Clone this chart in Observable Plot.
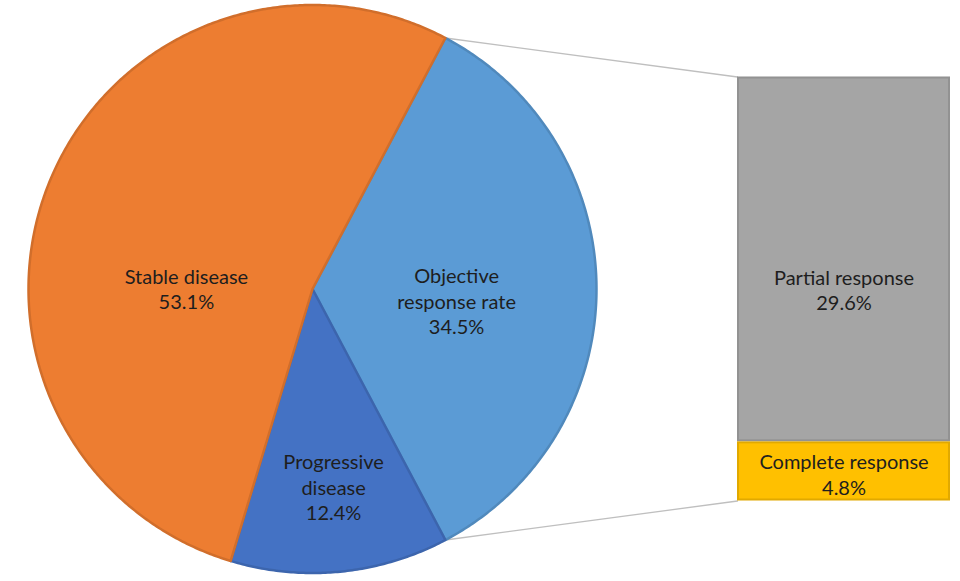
<!DOCTYPE html>
<html><head><meta charset="utf-8">
<script src="https://cdn.jsdelivr.net/npm/d3@7"></script>
<script src="https://cdn.jsdelivr.net/npm/@observablehq/plot@0.6"></script>
<style>body{margin:0;background:#fff;} #chart svg{display:block;}</style>
</head><body><div id="chart"></div>
<script>
// ---- data ----
const pieLabels = ["Objective\nresponse rate", "Progressive\ndisease", "Stable disease"];
const pieValues = [34.5, 12.4, 53.1];
const barLabels = ["Partial response", "Complete response"];
const barValues = [29.6, 4.8];

// ---- styles / layout ----
const pieColors = ["#5B9BD5", "#4472C4", "#ED7D31"];
const barColors = ["#A5A5A5", "#FFC000"];
const W = 960, H = 581, cx = 312, cy = 288.5, R = 284;
const labelPolar = [[94.6, 0.509], [173.9, 0.699], [270.3, 0.444]]; // [angle deg, radius fraction]
const barX1 = 1.4965, barW = 0.75, barH = 1.493;
const barLabelFrac = [0.582, 0.54];

const rad = d => d * Math.PI / 180;
const pt = (deg, r) => ({x: r * Math.sin(rad(deg)), y: -r * Math.cos(rad(deg))});

// slice angles: the split slice (index 0) is centred at 90°
const total = d3.sum(pieValues);
let a = 90 - pieValues[0] / total * 360 / 2;
const slices = pieValues.map((v, i) => {
  const a0 = a, a1 = a + v / total * 360; a = a1;
  const pts = [{x: 0, y: 0}];
  const n = Math.ceil((a1 - a0) * 2);
  for (let k = 0; k <= n; k++) pts.push(pt(a0 + (a1 - a0) * k / n, 1));
  pts.push({x: 0, y: 0});
  return {i, a0, a1, pts, label: pieLabels[i] + "\n" + v.toFixed(1) + "%",
          lx: pt(labelPolar[i][0], labelPolar[i][1]).x, ly: pt(labelPolar[i][0], labelPolar[i][1]).y};
});

// bar segments
const barTotal = d3.sum(barValues);
const kb = barH / barTotal;
let yb = -barH / 2;
const bars = barValues.map((v, i) => {
  const y1 = yb, y2 = yb + v * kb; yb = y2;
  return {i, x1: barX1, x2: barX1 + barW, y1, y2, fill: barColors[i],
          label: barLabels[i] + "\n" + v.toFixed(1) + "%",
          lx: barX1 + barW / 2, ly: y1 + (y2 - y1) * barLabelFrac[i]};
});

// connectors from split slice edges to bar corners
const s0 = slices[0];
const connectors = [
  [{x: pt(s0.a0, 1).x, y: pt(s0.a0, 1).y}, {x: barX1, y: bars[0].y1}],
  [{x: pt(s0.a1, 1).x, y: pt(s0.a1, 1).y}, {x: barX1, y: bars[bars.length - 1].y2}]
];

const textColor = "#1e1e1e";
const font = {fontFamily: "Lato, 'Open Sans', sans-serif", fontSize: 20, lineHeight: 1.27, fill: textColor, textAnchor: "middle", lineAnchor: "middle"};

const chart = Plot.plot({
  width: W, height: H,
  margin: 0,
  style: {background: "#fff", overflow: "visible"},
  x: {domain: [-cx / R, (W - cx) / R], range: [0, W], axis: null},
  y: {domain: [-cy / R, (H - cy) / R], range: [0, H], axis: null},
  marks: [
    ...connectors.map(c => Plot.line(c, {x: "x", y: "y", stroke: "#BFBFBF", strokeWidth: 1.3})),
    ...slices.map(s => Plot.line(s.pts, {x: "x", y: "y", fill: pieColors[s.i],
        stroke: d3.color(pieColors[s.i]).darker(0.35).formatHex(), strokeWidth: 2.5, strokeLinejoin: "round"})),
    Plot.rect(bars, {x1: "x1", x2: "x2", y1: "y1", y2: "y2", fill: "fill",
        stroke: d => d3.color(d.fill).darker(0.35).formatHex(), strokeWidth: 2, inset: 1}),
    Plot.text(slices, {x: "lx", y: "ly", text: "label", ...font}),
    Plot.text(bars, {x: "lx", y: "ly", text: "label", ...font})
  ]
});
document.getElementById("chart").appendChild(chart);
</script>
</body></html>
